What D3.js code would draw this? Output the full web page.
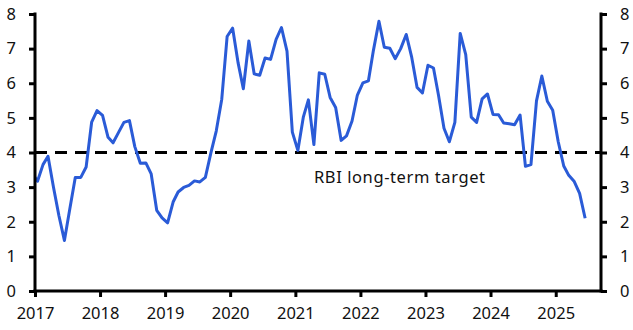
<!DOCTYPE html>
<html><head><meta charset="utf-8">
<script src="https://cdn.jsdelivr.net/npm/d3@7"></script>
<style>
html,body{margin:0;padding:0;background:#fff;}
svg{display:block;font-family:"Noto Sans",sans-serif;}
</style></head>
<body>
<svg id="c" width="633" height="330"></svg>
<script>
// Monthly data (y/y %), starting Dec 2016
const startMonth = "2016-12";
const values = [
  3.41,
  3.17,3.65,3.89,2.99,2.18,1.46,2.36,3.28,3.28,3.58,4.88,5.21,
  5.07,4.44,4.28,4.58,4.87,4.92,4.17,3.69,3.70,3.38,2.33,2.11,
  1.97,2.57,2.86,2.99,3.05,3.18,3.15,3.28,3.99,4.62,5.54,7.35,
  7.59,6.58,5.84,7.22,6.27,6.23,6.73,6.69,7.27,7.61,6.93,4.59,
  4.06,5.03,5.52,4.23,6.30,6.26,5.59,5.30,4.35,4.48,4.91,5.66,
  6.01,6.07,6.95,7.79,7.04,7.01,6.71,7.00,7.41,6.77,5.88,5.72,
  6.52,6.44,5.66,4.70,4.31,4.87,7.44,6.83,5.02,4.87,5.55,5.69,
  5.10,5.09,4.85,4.83,4.80,5.08,3.60,3.65,5.49,6.21,5.48,5.22,
  4.31,3.61,3.34,3.16,2.82,2.10
];
const target = 4;
const targetLabel = "RBI long-term target";
const yTicks = [0,1,2,3,4,5,6,7,8];
const xTickYears = [2017,2018,2019,2020,2021,2022,2023,2024,2025];

const svg = d3.select("#c");
const m = {left:35, right:601, top:14, bottom:291};
const [sy, sm] = startMonth.split("-").map(Number);
const data = values.map((v,i)=>({date:new Date(sy, sm-1+i, 15), v}));

const x = d3.scaleTime().domain([new Date(2017,0,1), new Date(2025,8,12)]).range([m.left, m.right]);
const y = d3.scaleLinear().domain([0,8]).range([m.bottom, m.top]);

svg.append("defs").append("clipPath").attr("id","clip")
  .append("rect").attr("x",m.left).attr("y",0).attr("width",m.right-m.left).attr("height",330);

// target line
svg.append("line").attr("x1",m.left).attr("x2",m.right).attr("y1",y(target)).attr("y2",y(target))
  .attr("stroke","#000").attr("stroke-width",3).attr("stroke-dasharray","12,8");
svg.append("text").attr("x",314).attr("y",y(target)+30).attr("font-size",16.5).attr("fill","#111")
  .attr("textLength",171).attr("lengthAdjust","spacing")
  .text(targetLabel);

// series line
svg.append("path").datum(data).attr("clip-path","url(#clip)")
  .attr("fill","none").attr("stroke","#2a5bd7").attr("stroke-width",3).attr("stroke-linejoin","round")
  .attr("d", d3.line().x(d=>x(d.date)).y(d=>y(d.v)));

// axes
const styleAxis = g => {
  g.select(".domain").remove();
  g.selectAll(".tick line").attr("stroke","#000").attr("stroke-width",3);
  g.selectAll(".tick text").attr("font-size",16.5).attr("fill","#111").attr("font-family","'Noto Sans',sans-serif");
};
svg.append("g").attr("transform",`translate(${m.left},0)`)
  .call(d3.axisLeft(y).tickValues(yTicks).tickSize(6).tickPadding(13).tickFormat(d3.format("d"))).call(styleAxis);
svg.append("g").attr("transform",`translate(${m.right},0)`)
  .call(d3.axisRight(y).tickValues(yTicks).tickSize(6).tickPadding(13).tickFormat(d3.format("d"))).call(styleAxis);
svg.append("g").attr("transform",`translate(0,${m.bottom})`)
  .call(d3.axisBottom(x).tickValues(xTickYears.map(yy=>new Date(yy,0,1))).tickSize(6).tickPadding(10).tickFormat(d3.timeFormat("%Y"))).call(styleAxis);

// axis lines
svg.append("line").attr("x1",m.left).attr("x2",m.left).attr("y1",m.top-1.5).attr("y2",m.bottom+1.5).attr("stroke","#000").attr("stroke-width",3);
svg.append("line").attr("x1",m.right).attr("x2",m.right).attr("y1",m.top-1.5).attr("y2",m.bottom+1.5).attr("stroke","#000").attr("stroke-width",3);
svg.append("line").attr("x1",m.left-1.5).attr("x2",m.right+1.5).attr("y1",m.bottom).attr("y2",m.bottom).attr("stroke","#000").attr("stroke-width",3);
</script>
</body></html>
